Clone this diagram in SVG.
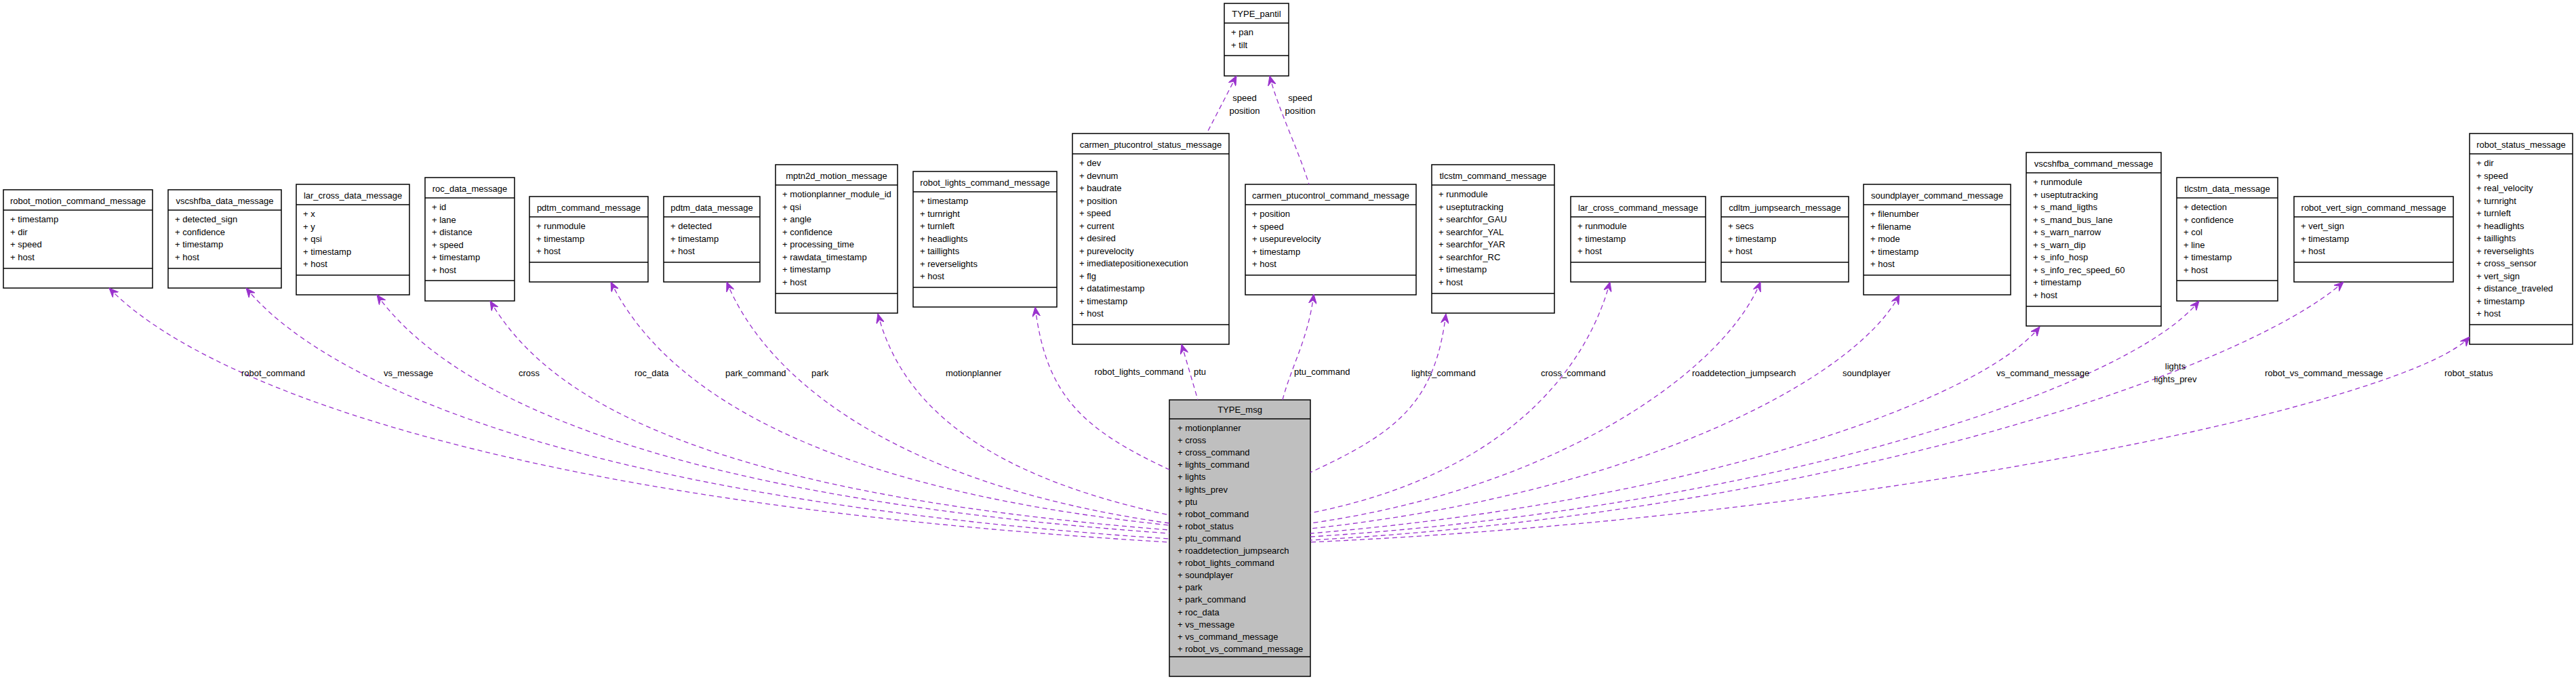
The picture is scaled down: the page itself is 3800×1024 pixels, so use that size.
<svg xmlns="http://www.w3.org/2000/svg" width="3800" height="1024" viewBox="0 0 3800 1024">
<style>
text{font-family:"Liberation Sans",Arial,sans-serif;font-size:13px;fill:#000}
.t{text-anchor:middle}
.b{fill:#fff;stroke:#000;stroke-width:1.5}
.g{fill:#bfbfbf;stroke:#000;stroke-width:1.5}
.l{stroke:#000;stroke-width:1.5}
.e{fill:none;stroke:#9a32cd;stroke-width:1.3;stroke-dasharray:7,5;marker-start:url(#a)}
</style>
<defs>
<marker id="a" viewBox="0 0 14 12" refX="14" refY="6" markerWidth="14" markerHeight="12" markerUnits="userSpaceOnUse" orient="auto-start-reverse">
<path d="M0,0 L14,6 L0,12 L5,6 Z" fill="#9a32cd" stroke="#9a32cd" stroke-width="1"/>
</marker>
</defs>
<rect width="3800" height="1024" fill="#fff"/>

<g id="robot_motion_command_message" transform="translate(5,280)">
<rect class="b" width="220" height="145"/><line class="l" x1="0" y1="30" x2="220" y2="30"/><line class="l" x1="0" y1="116" x2="220" y2="116"/>
<text class="t" x="110" y="21">robot_motion_command_message</text>
<text x="10" y="48">+ timestamp</text><text x="10" y="66.5">+ dir</text><text x="10" y="85">+ speed</text><text x="10" y="103.5">+ host</text>
</g>
<g id="vscshfba_data_message" transform="translate(248,280)">
<rect class="b" width="167" height="145"/><line class="l" x1="0" y1="30" x2="167" y2="30"/><line class="l" x1="0" y1="116" x2="167" y2="116"/>
<text class="t" x="83.5" y="21">vscshfba_data_message</text>
<text x="10" y="48">+ detected_sign</text><text x="10" y="66.5">+ confidence</text><text x="10" y="85">+ timestamp</text><text x="10" y="103.5">+ host</text>
</g>
<g id="lar_cross_data_message" transform="translate(437,272)">
<rect class="b" width="167" height="163"/><line class="l" x1="0" y1="30" x2="167" y2="30"/><line class="l" x1="0" y1="134" x2="167" y2="134"/>
<text class="t" x="83.5" y="21">lar_cross_data_message</text>
<text x="10" y="48">+ x</text><text x="10" y="66.5">+ y</text><text x="10" y="85">+ qsi</text><text x="10" y="103.5">+ timestamp</text><text x="10" y="122">+ host</text>
</g>
<g id="roc_data_message" transform="translate(627,262)">
<rect class="b" width="132" height="182"/><line class="l" x1="0" y1="30" x2="132" y2="30"/><line class="l" x1="0" y1="152" x2="132" y2="152"/>
<text class="t" x="66" y="21">roc_data_message</text>
<text x="10" y="48">+ id</text><text x="10" y="66.5">+ lane</text><text x="10" y="85">+ distance</text><text x="10" y="103.5">+ speed</text><text x="10" y="122">+ timestamp</text><text x="10" y="140.5">+ host</text>
</g>
<g id="pdtm_command_message" transform="translate(781,290)">
<rect class="b" width="175" height="126"/><line class="l" x1="0" y1="30" x2="175" y2="30"/><line class="l" x1="0" y1="97" x2="175" y2="97"/>
<text class="t" x="87.5" y="21">pdtm_command_message</text>
<text x="10" y="48">+ runmodule</text><text x="10" y="66.5">+ timestamp</text><text x="10" y="85">+ host</text>
</g>
<g id="pdtm_data_message" transform="translate(979,290)">
<rect class="b" width="142" height="126"/><line class="l" x1="0" y1="30" x2="142" y2="30"/><line class="l" x1="0" y1="97" x2="142" y2="97"/>
<text class="t" x="71" y="21">pdtm_data_message</text>
<text x="10" y="48">+ detected</text><text x="10" y="66.5">+ timestamp</text><text x="10" y="85">+ host</text>
</g>
<g id="mptn2d_motion_message" transform="translate(1144,243)">
<rect class="b" width="180" height="219"/><line class="l" x1="0" y1="30" x2="180" y2="30"/><line class="l" x1="0" y1="190" x2="180" y2="190"/>
<text class="t" x="90" y="21">mptn2d_motion_message</text>
<text x="10" y="48">+ motionplanner_module_id</text><text x="10" y="66.5">+ qsi</text><text x="10" y="85">+ angle</text><text x="10" y="103.5">+ confidence</text><text x="10" y="122">+ processing_time</text><text x="10" y="140.5">+ rawdata_timestamp</text><text x="10" y="159">+ timestamp</text><text x="10" y="177.5">+ host</text>
</g>
<g id="robot_lights_command_message" transform="translate(1347,253)">
<rect class="b" width="212" height="200"/><line class="l" x1="0" y1="30" x2="212" y2="30"/><line class="l" x1="0" y1="171" x2="212" y2="171"/>
<text class="t" x="106" y="21">robot_lights_command_message</text>
<text x="10" y="48">+ timestamp</text><text x="10" y="66.5">+ turnright</text><text x="10" y="85">+ turnleft</text><text x="10" y="103.5">+ headlights</text><text x="10" y="122">+ taillights</text><text x="10" y="140.5">+ reverselights</text><text x="10" y="159">+ host</text>
</g>
<g id="carmen_ptucontrol_status_message" transform="translate(1582,197)">
<rect class="b" width="231" height="311"/><line class="l" x1="0" y1="30" x2="231" y2="30"/><line class="l" x1="0" y1="282" x2="231" y2="282"/>
<text class="t" x="115.5" y="21">carmen_ptucontrol_status_message</text>
<text x="10" y="48">+ dev</text><text x="10" y="66.5">+ devnum</text><text x="10" y="85">+ baudrate</text><text x="10" y="103.5">+ position</text><text x="10" y="122">+ speed</text><text x="10" y="140.5">+ current</text><text x="10" y="159">+ desired</text><text x="10" y="177.5">+ purevelocity</text><text x="10" y="196">+ imediatepositionexecution</text><text x="10" y="214.5">+ flg</text><text x="10" y="233">+ datatimestamp</text><text x="10" y="251.5">+ timestamp</text><text x="10" y="270">+ host</text>
</g>
<g id="carmen_ptucontrol_command_message" transform="translate(1837,272)">
<rect class="b" width="252" height="163"/><line class="l" x1="0" y1="30" x2="252" y2="30"/><line class="l" x1="0" y1="134" x2="252" y2="134"/>
<text class="t" x="126" y="21">carmen_ptucontrol_command_message</text>
<text x="10" y="48">+ position</text><text x="10" y="66.5">+ speed</text><text x="10" y="85">+ usepurevelocity</text><text x="10" y="103.5">+ timestamp</text><text x="10" y="122">+ host</text>
</g>
<g id="tlcstm_command_message" transform="translate(2112,243)">
<rect class="b" width="181" height="219"/><line class="l" x1="0" y1="30" x2="181" y2="30"/><line class="l" x1="0" y1="190" x2="181" y2="190"/>
<text class="t" x="90.5" y="21">tlcstm_command_message</text>
<text x="10" y="48">+ runmodule</text><text x="10" y="66.5">+ useptutracking</text><text x="10" y="85">+ searchfor_GAU</text><text x="10" y="103.5">+ searchfor_YAL</text><text x="10" y="122">+ searchfor_YAR</text><text x="10" y="140.5">+ searchfor_RC</text><text x="10" y="159">+ timestamp</text><text x="10" y="177.5">+ host</text>
</g>
<g id="lar_cross_command_message" transform="translate(2317,290)">
<rect class="b" width="199" height="126"/><line class="l" x1="0" y1="30" x2="199" y2="30"/><line class="l" x1="0" y1="97" x2="199" y2="97"/>
<text class="t" x="99.5" y="21">lar_cross_command_message</text>
<text x="10" y="48">+ runmodule</text><text x="10" y="66.5">+ timestamp</text><text x="10" y="85">+ host</text>
</g>
<g id="cdltm_jumpsearch_message" transform="translate(2539,290)">
<rect class="b" width="188" height="126"/><line class="l" x1="0" y1="30" x2="188" y2="30"/><line class="l" x1="0" y1="97" x2="188" y2="97"/>
<text class="t" x="94" y="21">cdltm_jumpsearch_message</text>
<text x="10" y="48">+ secs</text><text x="10" y="66.5">+ timestamp</text><text x="10" y="85">+ host</text>
</g>
<g id="soundplayer_command_message" transform="translate(2749,272)">
<rect class="b" width="217" height="163"/><line class="l" x1="0" y1="30" x2="217" y2="30"/><line class="l" x1="0" y1="134" x2="217" y2="134"/>
<text class="t" x="108.5" y="21">soundplayer_command_message</text>
<text x="10" y="48">+ filenumber</text><text x="10" y="66.5">+ filename</text><text x="10" y="85">+ mode</text><text x="10" y="103.5">+ timestamp</text><text x="10" y="122">+ host</text>
</g>
<g id="vscshfba_command_message" transform="translate(2989,225)">
<rect class="b" width="199" height="256"/><line class="l" x1="0" y1="30" x2="199" y2="30"/><line class="l" x1="0" y1="227" x2="199" y2="227"/>
<text class="t" x="99.5" y="21">vscshfba_command_message</text>
<text x="10" y="48">+ runmodule</text><text x="10" y="66.5">+ useptutracking</text><text x="10" y="85">+ s_mand_ligths</text><text x="10" y="103.5">+ s_mand_bus_lane</text><text x="10" y="122">+ s_warn_narrow</text><text x="10" y="140.5">+ s_warn_dip</text><text x="10" y="159">+ s_info_hosp</text><text x="10" y="177.5">+ s_info_rec_speed_60</text><text x="10" y="196">+ timestamp</text><text x="10" y="214.5">+ host</text>
</g>
<g id="tlcstm_data_message" transform="translate(3211,262)">
<rect class="b" width="149" height="182"/><line class="l" x1="0" y1="30" x2="149" y2="30"/><line class="l" x1="0" y1="152" x2="149" y2="152"/>
<text class="t" x="74.5" y="21">tlcstm_data_message</text>
<text x="10" y="48">+ detection</text><text x="10" y="66.5">+ confidence</text><text x="10" y="85">+ col</text><text x="10" y="103.5">+ line</text><text x="10" y="122">+ timestamp</text><text x="10" y="140.5">+ host</text>
</g>
<g id="robot_vert_sign_command_message" transform="translate(3384,290)">
<rect class="b" width="235" height="126"/><line class="l" x1="0" y1="30" x2="235" y2="30"/><line class="l" x1="0" y1="97" x2="235" y2="97"/>
<text class="t" x="117.5" y="21">robot_vert_sign_command_message</text>
<text x="10" y="48">+ vert_sign</text><text x="10" y="66.5">+ timestamp</text><text x="10" y="85">+ host</text>
</g>
<g id="robot_status_message" transform="translate(3643,197)">
<rect class="b" width="152" height="311"/><line class="l" x1="0" y1="30" x2="152" y2="30"/><line class="l" x1="0" y1="282" x2="152" y2="282"/>
<text class="t" x="76" y="21">robot_status_message</text>
<text x="10" y="48">+ dir</text><text x="10" y="66.5">+ speed</text><text x="10" y="85">+ real_velocity</text><text x="10" y="103.5">+ turnright</text><text x="10" y="122">+ turnleft</text><text x="10" y="140.5">+ headlights</text><text x="10" y="159">+ taillights</text><text x="10" y="177.5">+ reverselights</text><text x="10" y="196">+ cross_sensor</text><text x="10" y="214.5">+ vert_sign</text><text x="10" y="233">+ distance_traveled</text><text x="10" y="251.5">+ timestamp</text><text x="10" y="270">+ host</text>
</g>
<g id="TYPE_pantil" transform="translate(1806,5)">
<rect class="b" width="95" height="107"/><line class="l" x1="0" y1="29" x2="95" y2="29"/><line class="l" x1="0" y1="77" x2="95" y2="77"/>
<text class="t" x="47.5" y="20">TYPE_pantil</text>
<text x="10" y="47">+ pan</text><text x="10" y="65.5">+ tilt</text>
</g>
<g id="TYPE_msg" transform="translate(1725,590)">
<rect class="g" width="208" height="408"/><line class="l" x1="0" y1="28" x2="208" y2="28"/><line class="l" x1="0" y1="379" x2="208" y2="379"/>
<text class="t" x="104" y="19">TYPE_msg</text>
<text x="12" y="46">+ motionplanner</text><text x="12" y="64.1">+ cross</text><text x="12" y="82.2">+ cross_command</text><text x="12" y="100.3">+ lights_command</text><text x="12" y="118.4">+ lights</text><text x="12" y="136.5">+ lights_prev</text><text x="12" y="154.6">+ ptu</text><text x="12" y="172.7">+ robot_command</text><text x="12" y="190.8">+ robot_status</text><text x="12" y="208.9">+ ptu_command</text><text x="12" y="227">+ roaddetection_jumpsearch</text><text x="12" y="245.1">+ robot_lights_command</text><text x="12" y="263.2">+ soundplayer</text><text x="12" y="281.3">+ park</text><text x="12" y="299.4">+ park_command</text><text x="12" y="317.5">+ roc_data</text><text x="12" y="335.6">+ vs_message</text><text x="12" y="353.7">+ vs_command_message</text><text x="12" y="371.8">+ robot_vs_command_message</text>
</g>

<g id="connectors">
<path class="e" d="M161,425 C286,555 708,740 1725,800"/>
<path class="e" d="M363,425 C470,555 820,735 1725,795"/>
<path class="e" d="M556,435 C650,565 920,730 1725,787"/>
<path class="e" d="M723,444 C800,574 1000,725 1725,782"/>
<path class="e" d="M901,416 C966,546 1150,715 1725,775"/>
<path class="e" d="M1072,416 C1125,546 1300,712 1725,772"/>
<path class="e" d="M1295,463 C1329,593 1445,700 1725,760"/>
<path class="e" d="M1527,453 C1543,583 1596,633 1725,693"/>
<path class="e" d="M1743,508 L1767,590"/>
<path class="e" d="M1938,434 C1930,500 1905,540 1892,590"/>
<path class="e" d="M1824,112 L1780,197"/>
<path class="e" d="M1873,112 C1885,160 1915,220 1931,272"/>
<path class="e" d="M2133,463 C2117,593 2063,637 1933,697"/>
<path class="e" d="M2375,416 C2340,546 2220,700 1933,757"/>
<path class="e" d="M2597,416 C2544,546 2300,720 1933,772"/>
<path class="e" d="M2802,435 C2733,565 2400,730 1933,780"/>
<path class="e" d="M3009,482 C2923,590 2500,740 1933,787"/>
<path class="e" d="M3244,444 C3139,574 2600,750 1933,792"/>
<path class="e" d="M3457,416 C3311,546 2700,755 1933,797"/>
<path class="e" d="M3643,497 C3560,590 2800,760 1933,800"/>
</g>
<g id="labels">
<text x="356" y="555">robot_command</text>
<text x="566" y="555">vs_message</text>
<text x="765" y="555">cross</text>
<text x="936" y="555">roc_data</text>
<text x="1070" y="555">park_command</text>
<text x="1197" y="555">park</text>
<text x="1395" y="555">motionplanner</text>
<text x="1746" y="553" text-anchor="end">robot_lights_command</text>
<text x="1761" y="553">ptu</text>
<text x="1909" y="553">ptu_command</text>
<text x="2082" y="555">lights_command</text>
<text x="2273" y="555">cross_command</text>
<text x="2496" y="555">roaddetection_jumpsearch</text>
<text x="2718" y="555">soundplayer</text>
<text x="2945" y="555">vs_command_message</text>
<text class="t" x="3209" y="545">lights</text>
<text class="t" x="3209" y="564">lights_prev</text>
<text x="3341" y="555">robot_vs_command_message</text>
<text x="3606" y="555">robot_status</text>
<text class="t" x="1836" y="149">speed</text>
<text class="t" x="1836" y="168">position</text>
<text class="t" x="1918" y="149">speed</text>
<text class="t" x="1918" y="168">position</text>
</g>
</svg>
